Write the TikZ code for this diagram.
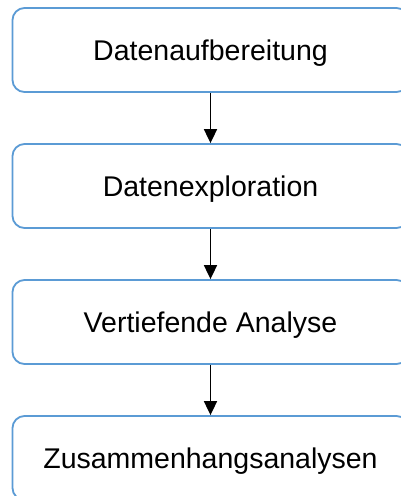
\documentclass[tikz,border=0pt]{standalone}
\usepackage{fontspec}
\setmainfont{Liberation Sans}
\usetikzlibrary{arrows.meta}
\definecolor{boxline}{HTML}{5B9BD5}
\tikzset{
  stepbox/.style={draw=boxline, line width=1.8pt, rounded corners=12pt,
    fill=white, minimum width=396pt, minimum height=84pt, inner sep=0pt,
    text height=20pt, text depth=0pt,
    font=\fontsize{28.5pt}{34pt}\selectfont, text=black},
  flow/.style={draw=black, line width=1.8pt,
    -{Triangle[length=14pt, width=13pt]}}
}
\begin{document}
\begin{tikzpicture}[x=1pt, y=-1pt]
  \clip (0,0) rectangle (401,496);
  \fill[white] (0,0) rectangle (401,496);
  \node[stepbox] (b1) at (210.5,50)  {Datenaufbereitung};
  \node[stepbox] (b2) at (210.5,186) {Datenexploration};
  \node[stepbox] (b3) at (210.5,322) {Vertiefende Analyse};
  \node[stepbox] (b4) at (210.5,458) {Zusammenhangsanalysen};
  \draw[flow] (b1) -- (b2);
  \draw[flow] (b2) -- (b3);
  \draw[flow] (b3) -- (b4);
\end{tikzpicture}
\end{document}
